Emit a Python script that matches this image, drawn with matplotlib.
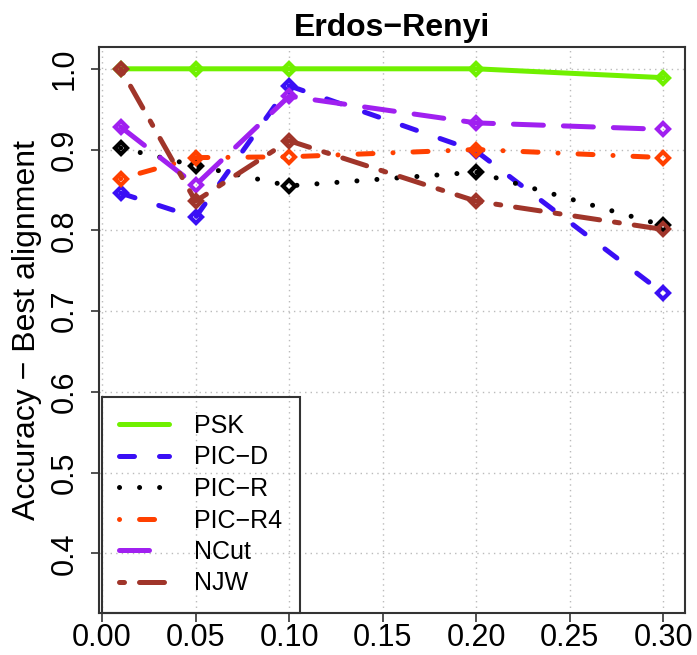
import matplotlib
matplotlib.use("Agg")
import matplotlib.pyplot as plt

plt.rcParams['font.family'] = ['Liberation Sans', 'DejaVu Sans']

x = [0.01, 0.05, 0.10, 0.20, 0.30]
methods = ["PSK", "PIC\u2212D", "PIC\u2212R", "PIC\u2212R4", "NCut", "NJW"]
psk   = [1.000, 1.000, 1.000, 1.000, 0.989]
pic_d = [0.846, 0.816, 0.979, 0.898, 0.722]
pic_r = [0.902, 0.880, 0.855, 0.872, 0.806]
pic_r4 = [0.864, 0.890, 0.891, 0.900, 0.890]
ncut  = [0.928, 0.856, 0.966, 0.933, 0.925]
njw   = [1.000, 0.836, 0.911, 0.836, 0.801]
series = [psk, pic_d, pic_r, pic_r4, ncut, njw]
colors = ['#70F000', '#3A0FF5', '#000000', '#FF4000', '#A020F0', '#A0352A']
# R line types (in line-width units), adjusted for round caps
dashes = [None, (3, 5), (0.01, 4), (0.01, 4, 3, 4), (6, 4), (1, 3, 5, 3)]

xticks = [0.00, 0.05, 0.10, 0.15, 0.20, 0.25, 0.30]
xticklabels = ["0.00", "0.05", "0.10", "0.15", "0.20", "0.25", "0.30"]
yticks = [0.4, 0.5, 0.6, 0.7, 0.8, 0.9, 1.0]
yticklabels = ["0.4", "0.5", "0.6", "0.7", "0.8", "0.9", "1.0"]

fig = plt.figure(figsize=(6.97, 6.55), dpi=100)
ax = fig.add_axes([99/697, 1 - 613/655, (685-99)/697, (613-47)/655])

for xv in xticks:
    ax.axvline(xv, color='#bbbbbb', lw=1.0, linestyle=(0, (1, 3)), zorder=0.5)
for yv in yticks:
    ax.axhline(yv, color='#bbbbbb', lw=1.0, linestyle=(0, (1, 3)), zorder=0.5)

lw = 3.6
for ys, c, d, name in zip(series, colors, dashes, methods):
    line, = ax.plot(x, ys, color=c, lw=lw, marker='D', ms=6.5, mfc='none', mew=3,
                    label=name, solid_capstyle='round', dash_capstyle='round')
    if d is not None:
        line.set_dashes(d)

ax.set_xlim(-0.0016, 0.3116)
ax.set_ylim(0.326, 1.027)
ax.set_xticks(xticks, xticklabels)
ax.set_yticks(yticks, yticklabels)
ax.tick_params(axis='x', labelsize=22, length=6.5, width=1.2, pad=0.5, color='#333333')
ax.tick_params(axis='y', labelsize=22, length=6, width=1.2, pad=19, color='#333333')
for lbl in ax.get_yticklabels():
    lbl.set_rotation(90)
    lbl.set_ha('center')
    lbl.set_va('center')

for s in ax.spines.values():
    s.set_color('#333333')
    s.set_linewidth(1.5)

ax.set_title("Erdos\u2212Renyi", fontsize=23, fontweight='bold', pad=8)
ax.set_ylabel("Accuracy \u2212 Best alignment", fontsize=23)
ax.yaxis.set_label_coords(-0.097, 0.5)

leg = ax.legend(loc='lower left', bbox_to_anchor=(0.005, 0.0), borderaxespad=0,
                fontsize=18, handlelength=2.0, handletextpad=1.0,
                labelspacing=0.3, borderpad=0.7, fancybox=False,
                framealpha=1, facecolor='none', edgecolor='#333333')
leg.get_frame().set_linewidth(1.5)
for h in leg.get_lines():
    h.set_marker('')

fig.savefig("out.png", dpi=100)
